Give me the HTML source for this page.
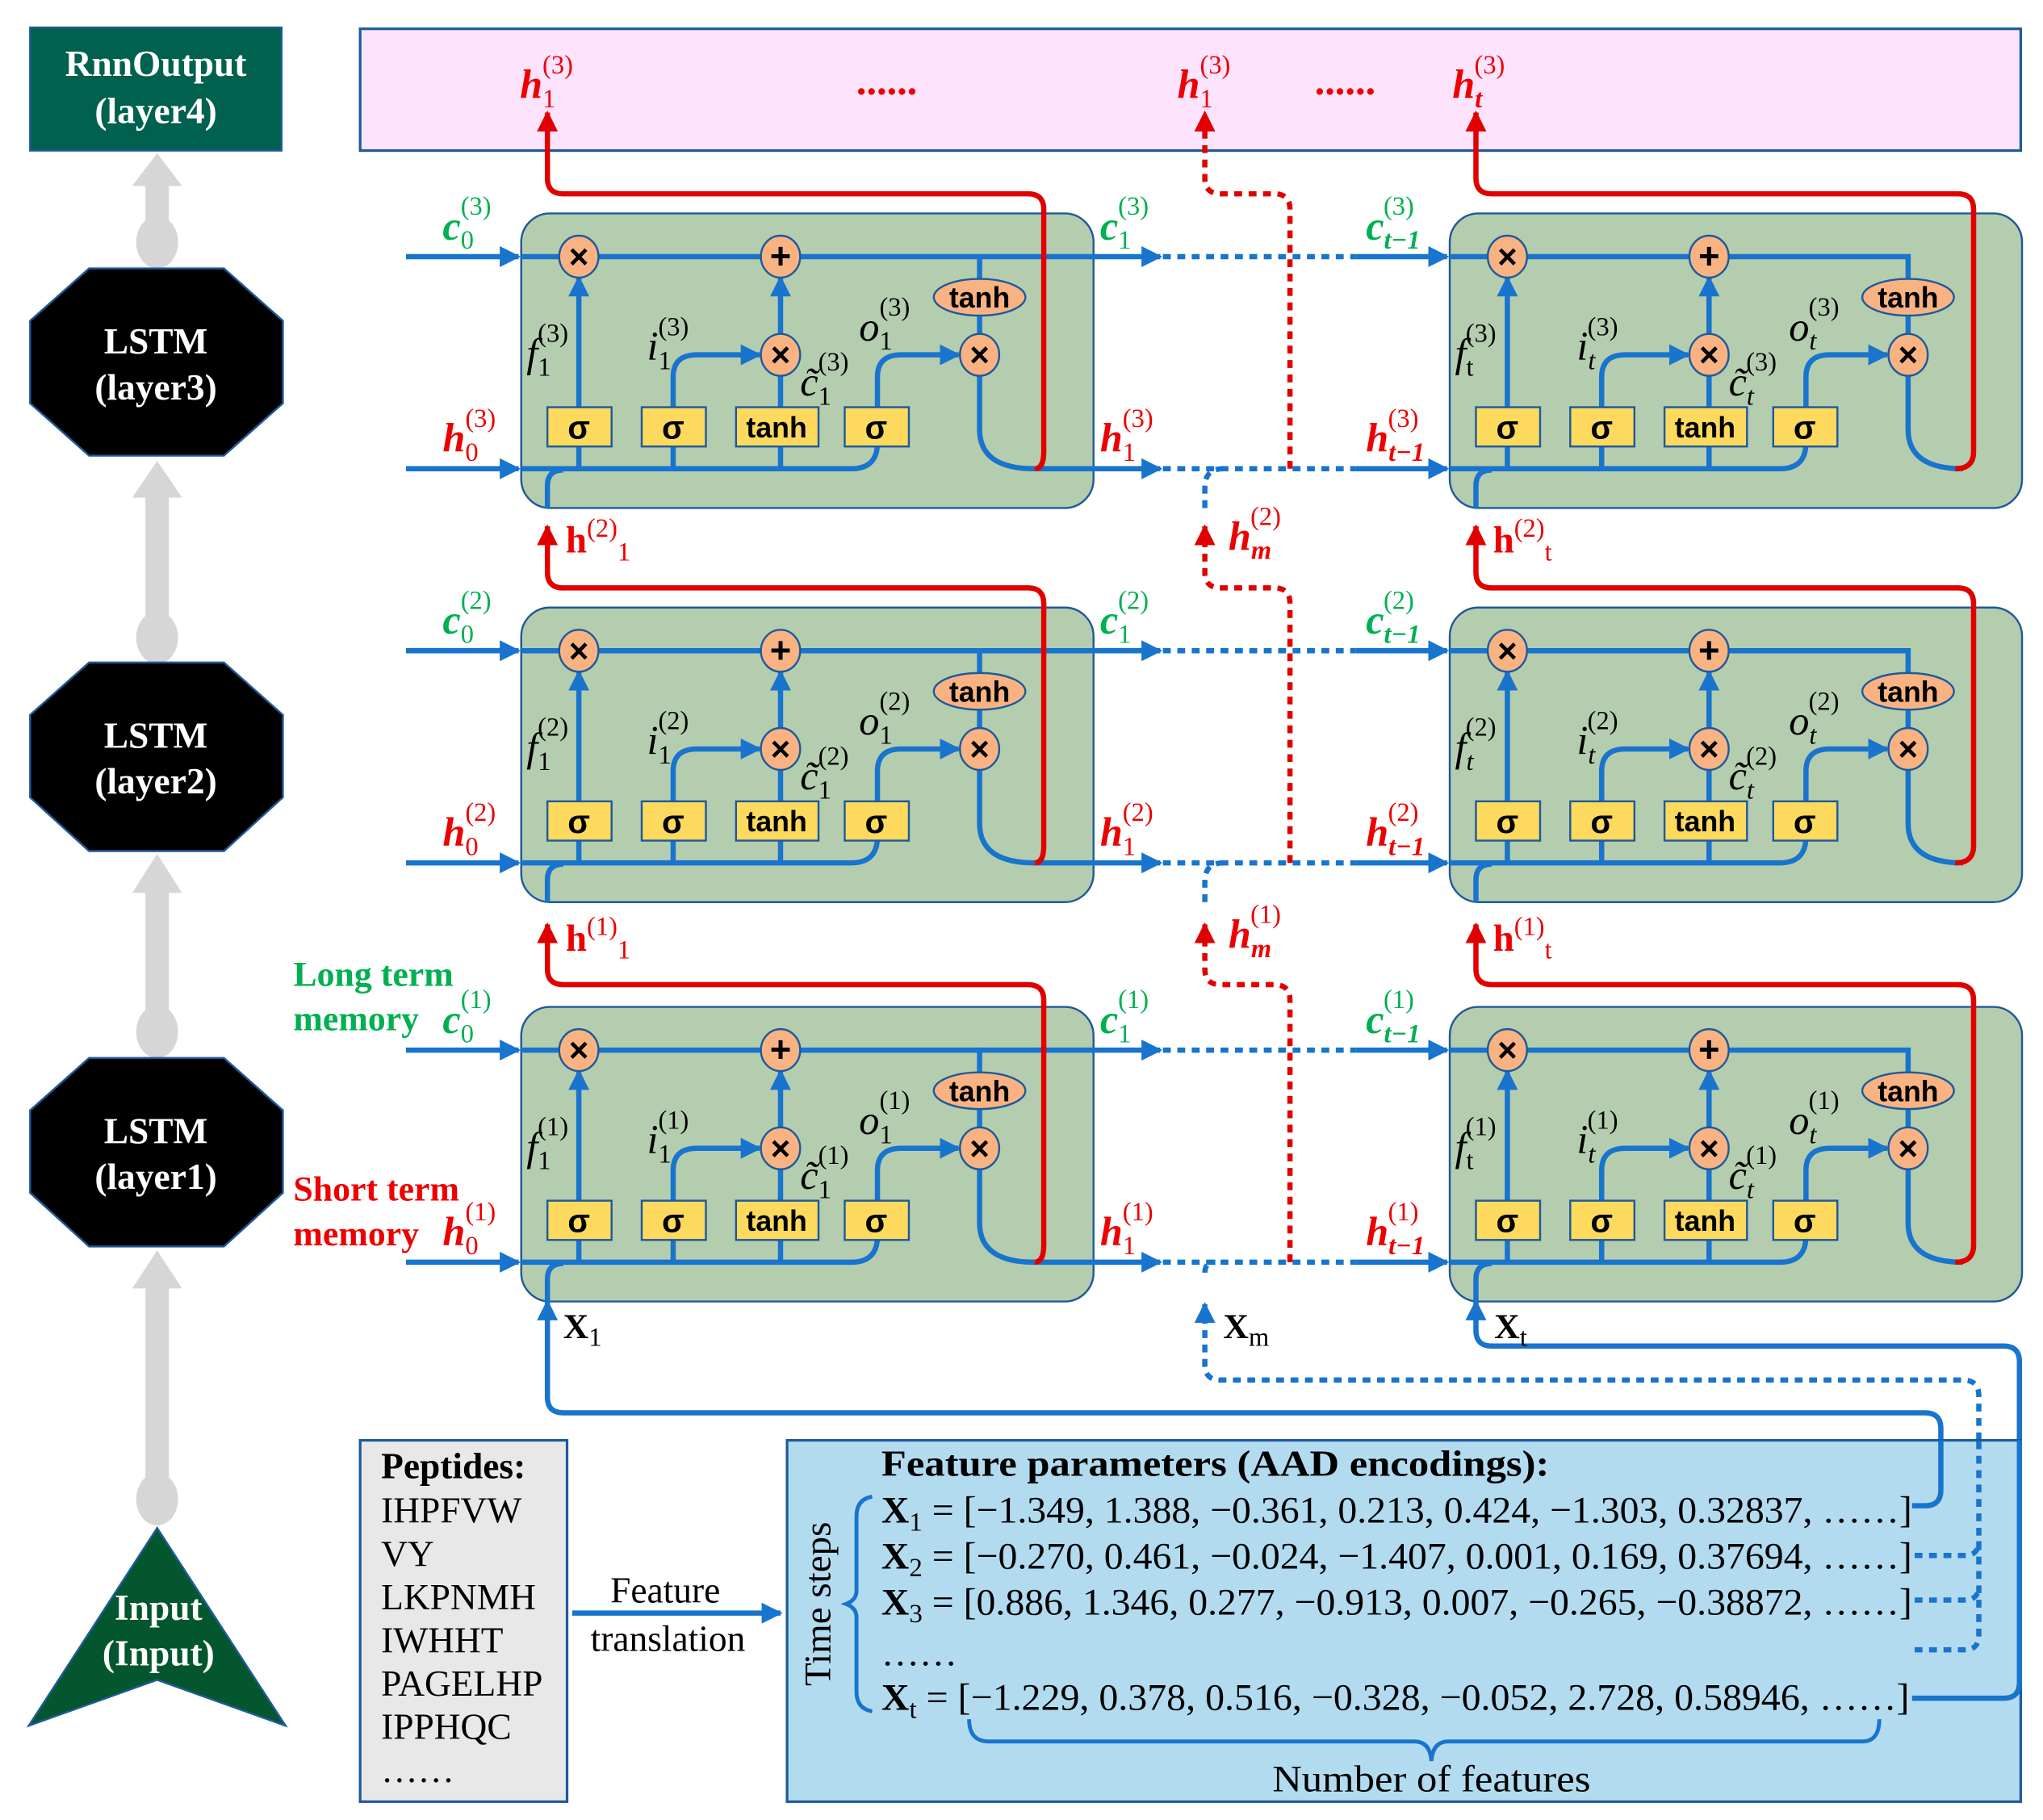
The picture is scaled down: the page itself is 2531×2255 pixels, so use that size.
<!DOCTYPE html>
<html><head><meta charset="utf-8"><style>
html,body{margin:0;padding:0;background:#fff;}
svg{display:block;}
.s{font-family:"Liberation Serif",serif;}
.lb{font-family:"Liberation Serif",serif;font-style:italic;font-weight:bold;font-size:31px;}
.lbn{font-family:"Liberation Serif",serif;font-weight:bold;font-size:29px;}
.sm{font-size:20px;font-style:normal;font-weight:normal;}
.si{font-size:20px;font-style:italic;font-weight:bold;}
.in{font-family:"Liberation Serif",serif;font-style:italic;font-size:31px;fill:#000;}
.g{fill:#00b050;} .r{fill:#ee0000;}
.box{font-family:"Liberation Sans",sans-serif;font-weight:bold;font-size:22px;text-anchor:middle;}
</style></head><body>
<svg width="2531" height="2255" viewBox="0 0 1560 1390" preserveAspectRatio="none" xmlns="http://www.w3.org/2000/svg">
<defs>
<marker id="ab" viewBox="0 0 10 10" refX="9" refY="5" markerWidth="16" markerHeight="16" markerUnits="userSpaceOnUse" orient="auto"><path d="M0,0L10,5L0,10Z" fill="#1874cd"/></marker>
<marker id="ar" viewBox="0 0 10 10" refX="9" refY="5" markerWidth="16" markerHeight="16" markerUnits="userSpaceOnUse" orient="auto"><path d="M0,0L10,5L0,10Z" fill="#e00000"/></marker>
<g id="cell">
<rect x="0" y="0" width="437" height="225" rx="22" fill="#b5cdaf" stroke="#1f5a9a" stroke-width="1.5"/>
<g fill="none" stroke="#1874cd" stroke-width="4">
<path d="M0,33H350V50"/>
<path d="M350,78V93"/>
<path d="M350,123V165Q350,195 392,195"/>
<path d="M0,195H252Q272,195 272,175V178"/>
<path d="M20,225V208Q20,196 32,196"/>
<path d="M44,195V178M116,195V178M198,195V178"/>
<path d="M44,148V49" marker-end="url(#ab)"/>
<path d="M198,148V123"/>
<path d="M198,93V49" marker-end="url(#ab)"/>
<path d="M116,148V125Q116,108 134,108H182" marker-end="url(#ab)"/>
<path d="M272,148V125Q272,108 290,108H334" marker-end="url(#ab)"/>
</g>
<g stroke="#1f5a9a" stroke-width="1.5" fill="#f9b383">
<ellipse cx="44" cy="33" rx="15" ry="16"/>
<ellipse cx="198" cy="33" rx="15" ry="16"/>
<ellipse cx="198" cy="108" rx="15" ry="16"/>
<ellipse cx="350" cy="108" rx="15" ry="16"/>
<ellipse cx="350" cy="64" rx="35" ry="14"/>
</g>
<g stroke="#1f5a9a" stroke-width="1.5" fill="#fdd95e">
<rect x="20" y="148" width="49" height="30"/>
<rect x="92" y="148" width="49" height="30"/>
<rect x="164" y="148" width="63" height="30"/>
<rect x="247" y="148" width="49" height="30"/>
</g>
<g class="box" fill="#000">
<text x="44" y="42" font-size="26">×</text>
<text x="198" y="42" font-size="28">+</text>
<text x="198" y="117" font-size="26">×</text>
<text x="350" y="117" font-size="26">×</text>
<text x="350" y="72">tanh</text>
<text x="44" y="172" font-size="25">σ</text>
<text x="116" y="172" font-size="25">σ</text>
<text x="195" y="171">tanh</text>
<text x="271" y="172" font-size="25">σ</text>
</g>
</g>
</defs>

<!-- left column -->
<rect x="23" y="21" width="192" height="94" fill="#00614f" stroke="#1f5a9a" stroke-width="1.5"/>
<text x="119" y="58" class="s" font-size="28" font-weight="bold" fill="#fff" text-anchor="middle">RnnOutput</text>
<text x="119" y="94" class="s" font-size="28" font-weight="bold" fill="#fff" text-anchor="middle">(layer4)</text>
<g fill="#d6d6d6">
<rect x="111" y="140" width="18" height="45"/><path d="M101,142L120,117L139,142Z"/><ellipse cx="120" cy="185" rx="16" ry="20"/>
<rect x="111" y="378" width="18" height="110"/><path d="M101,380L120,352L139,380Z"/><ellipse cx="120" cy="487" rx="16" ry="20"/>
<rect x="111" y="680" width="18" height="108"/><path d="M101,682L120,652L139,682Z"/><ellipse cx="120" cy="788" rx="16" ry="20"/>
<rect x="111" y="982" width="18" height="163"/><path d="M101,984L120,955L139,984Z"/><ellipse cx="120" cy="1145" rx="16" ry="20"/>
</g>
<g fill="#000" stroke="#1f5a9a" stroke-width="1.5">
<path d="M68,205H171L216,245V308L171,348H68L23,308V245Z"/>
<path d="M68,506H171L216,546V609L171,650H68L23,609V546Z"/>
<path d="M68,808H171L216,848V911L171,952H68L23,911V848Z"/>
</g>
<g class="s" font-size="28" font-weight="bold" fill="#fff" text-anchor="middle">
<text x="119" y="270">LSTM</text><text x="119" y="305">(layer3)</text>
<text x="119" y="571">LSTM</text><text x="119" y="606">(layer2)</text>
<text x="119" y="873">LSTM</text><text x="119" y="908">(layer1)</text>
</g>
<path d="M120,1167L218,1318L120,1283L22,1318Z" fill="#03562e" stroke="#1f5a9a" stroke-width="1.5"/>
<text x="121" y="1237" class="s" font-size="28" font-weight="bold" fill="#fff" text-anchor="middle">Input</text>
<text x="121" y="1272" class="s" font-size="28" font-weight="bold" fill="#fff" text-anchor="middle">(Input)</text>

<!-- top output -->
<rect x="275" y="22" width="1268" height="93" fill="#fde4fc" stroke="#1f5a9a" stroke-width="2"/>

<!-- cells -->
<use href="#cell" x="398" y="163"/><use href="#cell" x="1107" y="163"/>
<use href="#cell" x="398" y="464"/><use href="#cell" x="1107" y="464"/>
<use href="#cell" x="398" y="769"/><use href="#cell" x="1107" y="769"/>

<g fill="none" stroke="#1874cd" stroke-width="4">
<path d="M310,196H396" marker-end="url(#ab)"/><path d="M310,358H396" marker-end="url(#ab)"/>
<path d="M310,497H396" marker-end="url(#ab)"/><path d="M310,659H396" marker-end="url(#ab)"/>
<path d="M310,802H396" marker-end="url(#ab)"/><path d="M310,964H396" marker-end="url(#ab)"/>
<path d="M748,196H886" marker-end="url(#ab)"/><path d="M790,358H886" marker-end="url(#ab)"/>
<path d="M748,497H886" marker-end="url(#ab)"/><path d="M790,659H886" marker-end="url(#ab)"/>
<path d="M748,802H886" marker-end="url(#ab)"/><path d="M790,964H886" marker-end="url(#ab)"/>
<path d="M1035,196H1105" marker-end="url(#ab)"/><path d="M1035,358H1105" marker-end="url(#ab)"/>
<path d="M1035,497H1105" marker-end="url(#ab)"/><path d="M1035,659H1105" marker-end="url(#ab)"/>
<path d="M1035,802H1105" marker-end="url(#ab)"/><path d="M1035,964H1105" marker-end="url(#ab)"/>
<path d="M1482,1100V1091Q1482,1079 1470,1079H430Q418,1079 418,1067V994" marker-end="url(#ab)"/>
<path d="M1542,1100V1040Q1542,1028 1530,1028H1139Q1127,1028 1127,1016V994" marker-end="url(#ab)"/>
</g>
<g fill="none" stroke="#1874cd" stroke-width="4" stroke-dasharray="6,5">
<path d="M888,196H1035M888,358H1035M888,497H1035M888,659H1035M888,802H1035M888,964H1035"/>
<path d="M920,388V372Q920,358 934,358"/>
<path d="M920,689V673Q920,659 934,659"/>
<path d="M1511,1100V1066Q1511,1054 1499,1054H932Q920,1054 920,1042V996" marker-end="url(#ab)"/>
<path d="M920,972Q920,964 928,964"/>
</g>
<g fill="none" stroke="#e00000" stroke-width="4">
<path d="M790,358Q797,358 797,345V160Q797,148 785,148H430Q418,148 418,136V86" marker-end="url(#ar)"/>
<path d="M790,659Q797,659 797,646V461Q797,449 785,449H430Q418,449 418,437V402" marker-end="url(#ar)"/>
<path d="M790,964Q797,964 797,951V764Q797,752 785,752H430Q418,752 418,740V706" marker-end="url(#ar)"/>
<path d="M1493,358Q1507,358 1507,345V160Q1507,148 1495,148H1139Q1127,148 1127,136V86" marker-end="url(#ar)"/>
<path d="M1493,659Q1507,659 1507,646V461Q1507,449 1495,449H1139Q1127,449 1127,437V402" marker-end="url(#ar)"/>
<path d="M1493,964Q1507,964 1507,951V764Q1507,752 1495,752H1139Q1127,752 1127,740V706" marker-end="url(#ar)"/>
</g>
<g fill="none" stroke="#e00000" stroke-width="4" stroke-dasharray="6,5">
<path d="M985,358V160Q985,148 973,148H932Q920,148 920,136V86" marker-end="url(#ar)"/>
<path d="M985,659V461Q985,449 973,449H932Q920,449 920,437V402" marker-end="url(#ar)"/>
<path d="M985,964V764Q985,752 973,752H932Q920,752 920,740V706" marker-end="url(#ar)"/>
</g>

<!-- top labels -->
<text x="397" y="75" class="lb r">h<tspan class="sm" dy="7">1</tspan><tspan class="sm" dx="-10" dy="-26">(3)</tspan></text>
<text x="655" y="72" class="lb r">......</text>
<text x="899" y="75" class="lb r">h<tspan class="sm" dy="7">1</tspan><tspan class="sm" dx="-10" dy="-26">(3)</tspan></text>
<text x="1005" y="72" class="lb r">......</text>
<text x="1109" y="75" class="lb r">h<tspan class="si" dy="7">t</tspan><tspan class="sm" dx="-6" dy="-26">(3)</tspan></text>

<g>
<text x="338" y="183" class="lb g">c<tspan class="sm" dy="7">0</tspan><tspan class="sm" dx="-10" dy="-26">(3)</tspan></text>
<text x="338" y="345" class="lb r">h<tspan class="sm" dy="7">0</tspan><tspan class="sm" dx="-10" dy="-26">(3)</tspan></text>
<text x="840" y="183" class="lb g">c<tspan class="sm" dy="7">1</tspan><tspan class="sm" dx="-10" dy="-26">(3)</tspan></text>
<text x="840" y="345" class="lb r">h<tspan class="sm" dy="7">1</tspan><tspan class="sm" dx="-10" dy="-26">(3)</tspan></text>
<text x="1043" y="183" class="lb g">c<tspan class="si" dy="7">t−1</tspan><tspan class="sm" dx="-28" dy="-26">(3)</tspan></text>
<text x="1043" y="345" class="lb r">h<tspan class="si" dy="7">t−1</tspan><tspan class="sm" dx="-28" dy="-26">(3)</tspan></text>

<text x="338" y="484" class="lb g">c<tspan class="sm" dy="7">0</tspan><tspan class="sm" dx="-10" dy="-26">(2)</tspan></text>
<text x="338" y="646" class="lb r">h<tspan class="sm" dy="7">0</tspan><tspan class="sm" dx="-10" dy="-26">(2)</tspan></text>
<text x="840" y="484" class="lb g">c<tspan class="sm" dy="7">1</tspan><tspan class="sm" dx="-10" dy="-26">(2)</tspan></text>
<text x="840" y="646" class="lb r">h<tspan class="sm" dy="7">1</tspan><tspan class="sm" dx="-10" dy="-26">(2)</tspan></text>
<text x="1043" y="484" class="lb g">c<tspan class="si" dy="7">t−1</tspan><tspan class="sm" dx="-28" dy="-26">(2)</tspan></text>
<text x="1043" y="646" class="lb r">h<tspan class="si" dy="7">t−1</tspan><tspan class="sm" dx="-28" dy="-26">(2)</tspan></text>

<text x="338" y="789" class="lb g">c<tspan class="sm" dy="7">0</tspan><tspan class="sm" dx="-10" dy="-26">(1)</tspan></text>
<text x="338" y="951" class="lb r">h<tspan class="sm" dy="7">0</tspan><tspan class="sm" dx="-10" dy="-26">(1)</tspan></text>
<text x="840" y="789" class="lb g">c<tspan class="sm" dy="7">1</tspan><tspan class="sm" dx="-10" dy="-26">(1)</tspan></text>
<text x="840" y="951" class="lb r">h<tspan class="sm" dy="7">1</tspan><tspan class="sm" dx="-10" dy="-26">(1)</tspan></text>
<text x="1043" y="789" class="lb g">c<tspan class="si" dy="7">t−1</tspan><tspan class="sm" dx="-28" dy="-26">(1)</tspan></text>
<text x="1043" y="951" class="lb r">h<tspan class="si" dy="7">t−1</tspan><tspan class="sm" dx="-28" dy="-26">(1)</tspan></text>
</g>

<text x="432" y="422" class="lbn r">h<tspan class="sm" dy="-12">(2)</tspan><tspan class="sm" dy="18">1</tspan></text>
<text x="1140" y="422" class="lbn r">h<tspan class="sm" dy="-12">(2)</tspan><tspan class="sm" dy="18">t</tspan></text>
<text x="938" y="420" class="lb r">h<tspan class="si" dy="7">m</tspan><tspan class="sm" dx="-16" dy="-26">(2)</tspan></text>
<text x="432" y="726" class="lbn r">h<tspan class="sm" dy="-12">(1)</tspan><tspan class="sm" dy="18">1</tspan></text>
<text x="1140" y="726" class="lbn r">h<tspan class="sm" dy="-12">(1)</tspan><tspan class="sm" dy="18">t</tspan></text>
<text x="938" y="724" class="lb r">h<tspan class="si" dy="7">m</tspan><tspan class="sm" dx="-16" dy="-26">(1)</tspan></text>

<text x="430" y="1022" class="s" font-size="27" font-weight="bold">X<tspan class="sm" dy="6">1</tspan></text>
<text x="934" y="1022" class="s" font-size="27" font-weight="bold">X<tspan class="sm" dy="6">m</tspan></text>
<text x="1141" y="1022" class="s" font-size="27" font-weight="bold">X<tspan class="sm" dy="6">t</tspan></text>

<g class="s" font-size="27" font-weight="bold">
<text x="224" y="753" class="g">Long term</text>
<text x="224" y="787" class="g">memory</text>
<text x="224" y="917" class="r">Short term</text>
<text x="224" y="951" class="r">memory</text>
</g>

<g>
<text x="402" y="280" class="in">f<tspan class="sm" dy="7">1</tspan><tspan class="sm" dx="-10" dy="-26">(3)</tspan></text>
<text x="494" y="275" class="in">i<tspan class="sm" dy="7">1</tspan><tspan class="sm" dx="-10" dy="-26">(3)</tspan></text>
<text x="656" y="260" class="in">o<tspan class="sm" dy="7">1</tspan><tspan class="sm" dx="-10" dy="-26">(3)</tspan></text>
<text x="611" y="302" class="in">c̃<tspan class="sm" dy="7">1</tspan><tspan class="sm" dx="-10" dy="-26">(3)</tspan></text>
<text x="1111" y="280" class="in">f<tspan class="sm" dy="7">t</tspan><tspan class="sm" dx="-6" dy="-26">(3)</tspan></text>
<text x="1204" y="275" class="in">i<tspan class="sm" style="font-style:italic" dy="7">t</tspan><tspan class="sm" dx="-6" dy="-26">(3)</tspan></text>
<text x="1366" y="260" class="in">o<tspan class="sm" style="font-style:italic" dy="7">t</tspan><tspan class="sm" dx="-6" dy="-26">(3)</tspan></text>
<text x="1320" y="302" class="in">c̃<tspan class="sm" style="font-style:italic" dy="7">t</tspan><tspan class="sm" dx="-6" dy="-26">(3)</tspan></text>

<text x="402" y="581" class="in">f<tspan class="sm" dy="7">1</tspan><tspan class="sm" dx="-10" dy="-26">(2)</tspan></text>
<text x="494" y="576" class="in">i<tspan class="sm" dy="7">1</tspan><tspan class="sm" dx="-10" dy="-26">(2)</tspan></text>
<text x="656" y="561" class="in">o<tspan class="sm" dy="7">1</tspan><tspan class="sm" dx="-10" dy="-26">(2)</tspan></text>
<text x="611" y="603" class="in">c̃<tspan class="sm" dy="7">1</tspan><tspan class="sm" dx="-10" dy="-26">(2)</tspan></text>
<text x="1111" y="581" class="in">f<tspan class="sm" style="font-style:italic" dy="7">t</tspan><tspan class="sm" dx="-6" dy="-26">(2)</tspan></text>
<text x="1204" y="576" class="in">i<tspan class="sm" style="font-style:italic" dy="7">t</tspan><tspan class="sm" dx="-6" dy="-26">(2)</tspan></text>
<text x="1366" y="561" class="in">o<tspan class="sm" style="font-style:italic" dy="7">t</tspan><tspan class="sm" dx="-6" dy="-26">(2)</tspan></text>
<text x="1320" y="603" class="in">c̃<tspan class="sm" style="font-style:italic" dy="7">t</tspan><tspan class="sm" dx="-6" dy="-26">(2)</tspan></text>

<text x="402" y="886" class="in">f<tspan class="sm" dy="7">1</tspan><tspan class="sm" dx="-10" dy="-26">(1)</tspan></text>
<text x="494" y="881" class="in">i<tspan class="sm" dy="7">1</tspan><tspan class="sm" dx="-10" dy="-26">(1)</tspan></text>
<text x="656" y="866" class="in">o<tspan class="sm" dy="7">1</tspan><tspan class="sm" dx="-10" dy="-26">(1)</tspan></text>
<text x="611" y="908" class="in">c̃<tspan class="sm" dy="7">1</tspan><tspan class="sm" dx="-10" dy="-26">(1)</tspan></text>
<text x="1111" y="886" class="in">f<tspan class="sm" dy="7">t</tspan><tspan class="sm" dx="-6" dy="-26">(1)</tspan></text>
<text x="1204" y="881" class="in">i<tspan class="sm" style="font-style:italic" dy="7">t</tspan><tspan class="sm" dx="-6" dy="-26">(1)</tspan></text>
<text x="1366" y="866" class="in">o<tspan class="sm" style="font-style:italic" dy="7">t</tspan><tspan class="sm" dx="-6" dy="-26">(1)</tspan></text>
<text x="1320" y="908" class="in">c̃<tspan class="sm" style="font-style:italic" dy="7">t</tspan><tspan class="sm" dx="-6" dy="-26">(1)</tspan></text>
</g>

<!-- peptides -->
<rect x="275" y="1100" width="158" height="276" fill="#e8e8e8" stroke="#1f5a9a" stroke-width="2"/>
<g class="s" font-size="28">
<text x="291" y="1129" font-weight="bold">Peptides:</text>
<text x="291" y="1163">IHPFVW</text>
<text x="291" y="1196">VY</text>
<text x="291" y="1229">LKPNMH</text>
<text x="291" y="1262">IWHHT</text>
<text x="291" y="1295">PAGELHP</text>
<text x="291" y="1328">IPPHQC</text>
<text x="291" y="1361">……</text>
</g>
<text x="508" y="1224" class="s" font-size="28" text-anchor="middle">Feature</text>
<text x="510" y="1261" class="s" font-size="28" text-anchor="middle">translation</text>
<path d="M437,1232H596" stroke="#1874cd" stroke-width="4" marker-end="url(#ab)" fill="none"/>

<!-- feature box -->
<rect x="601" y="1100" width="942" height="276" fill="#b3dbf0" stroke="#1f5a9a" stroke-width="2"/>
<g fill="none" stroke="#1874cd" stroke-width="4">
<path d="M1460,1150H1470Q1482,1150 1482,1138V1100"/>
<path d="M1460,1297H1530Q1542,1297 1542,1285V1100"/>
<path d="M666,1143Q654,1145 654,1158V1215Q654,1222 646,1225Q654,1228 654,1235V1292Q654,1305 666,1307" stroke-width="3"/>
<path d="M740,1313Q740,1330 755,1330H1080Q1092,1330 1093,1345Q1094,1330 1106,1330H1422Q1435,1330 1435,1313" stroke-width="3"/>
</g>
<g fill="none" stroke="#1874cd" stroke-width="4" stroke-dasharray="6,5">
<path d="M1462,1188H1500Q1511,1188 1511,1177M1462,1222H1500Q1511,1222 1511,1211M1462,1260H1500Q1511,1260 1511,1249V1100"/>
</g>
<text x="673" y="1127" class="s" font-size="28" font-weight="bold" textLength="510" lengthAdjust="spacingAndGlyphs">Feature parameters (AAD encodings):</text>
<g class="s" font-size="29">
<text x="673" y="1163" textLength="787" lengthAdjust="spacingAndGlyphs"><tspan font-weight="bold">X</tspan><tspan class="sm" font-weight="bold" dy="6">1</tspan><tspan dy="-6"> = [−1.349, 1.388, −0.361, 0.213, 0.424, −1.303, 0.32837, ……]</tspan></text>
<text x="673" y="1198" textLength="787" lengthAdjust="spacingAndGlyphs"><tspan font-weight="bold">X</tspan><tspan class="sm" font-weight="bold" dy="6">2</tspan><tspan dy="-6"> = [−0.270, 0.461, −0.024, −1.407, 0.001, 0.169, 0.37694, ……]</tspan></text>
<text x="673" y="1233" textLength="787" lengthAdjust="spacingAndGlyphs"><tspan font-weight="bold">X</tspan><tspan class="sm" font-weight="bold" dy="6">3</tspan><tspan dy="-6"> = [0.886, 1.346, 0.277, −0.913, 0.007, −0.265, −0.38872, ……]</tspan></text>
<text x="673" y="1272">……</text>
<text x="673" y="1306" textLength="785" lengthAdjust="spacingAndGlyphs"><tspan font-weight="bold">X</tspan><tspan class="sm" font-weight="bold" dy="6">t</tspan><tspan dy="-6"> = [−1.229, 0.378, 0.516, −0.328, −0.052, 2.728, 0.58946, ……]</tspan></text>
<text x="1093" y="1368" text-anchor="middle" textLength="243" lengthAdjust="spacingAndGlyphs">Number of features</text>
<text transform="translate(634,1225) rotate(-90)" text-anchor="middle">Time steps</text>
</g>
</svg>
</body></html>
